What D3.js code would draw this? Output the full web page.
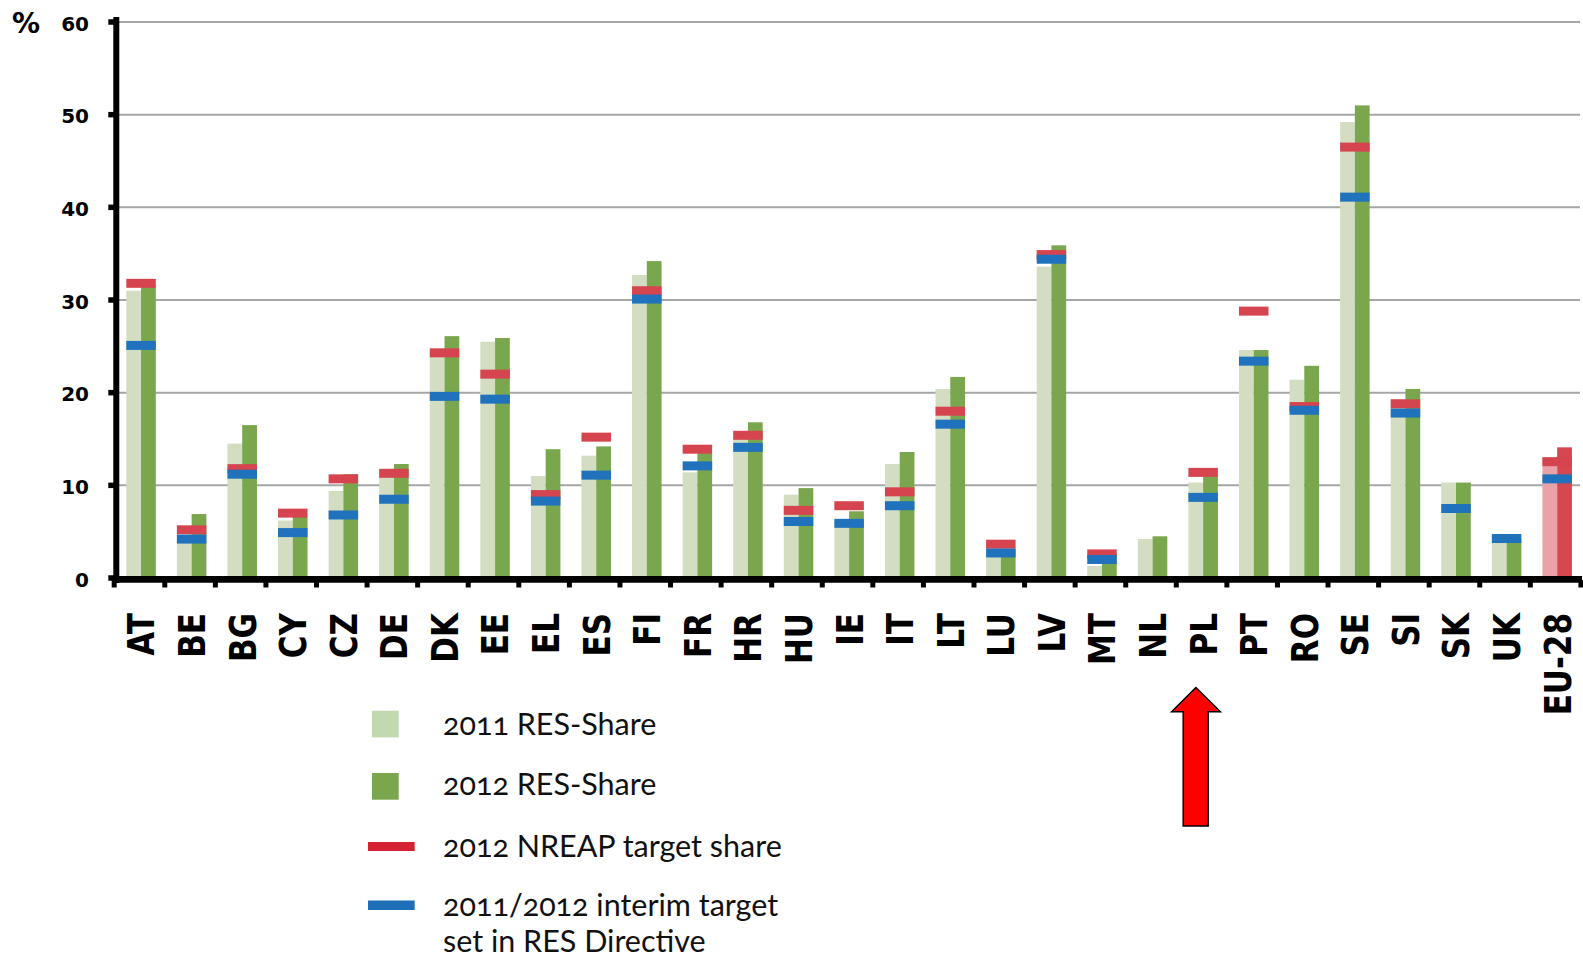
<!DOCTYPE html>
<html>
<head>
<meta charset="utf-8">
<script src="https://cdn.jsdelivr.net/npm/d3@7"></script>
<style>
  html, body { margin: 0; padding: 0; background: #ffffff; }
  svg { display: block; }
</style>
</head>
<body>
<svg id="chart" width="1583" height="956"></svg>
<script>
// ---------- data ----------
const categories = ["AT","BE","BG","CY","CZ","DE","DK","EE","EL","ES","FI","FR","HR","HU","IE","IT","LT","LU","LV","MT","NL","PL","PT","RO","SE","SI","SK","UK","EU-28"];
const share2011 = [31.0, 4.1, 14.5, 6.2, 9.4, 10.9, 24.0, 25.5, 11.0, 13.2, 32.7, 11.4, 15.2, 9.0, 6.3, 12.3, 20.4, 2.6, 33.6, 1.3, 4.2, 10.3, 24.6, 21.4, 49.2, 19.3, 10.3, 3.8, 13.0];
const share2012 = [31.6, 6.9, 16.5, 6.6, 11.2, 12.3, 26.1, 25.9, 13.9, 14.2, 34.2, 13.5, 16.8, 9.7, 7.2, 13.6, 21.7, 3.1, 35.9, 2.6, 4.5, 11.0, 24.6, 22.9, 51.0, 20.4, 10.3, 4.2, 14.1];
const nreapTarget = [31.8, 5.2, 11.8, 7.0, 10.7, 11.3, 24.3, 22.0, 9.0, 15.2, 31.0, 13.9, 15.4, 7.3, 7.8, 9.3, 18.0, 3.65, 34.9, 2.6, null, 11.4, 28.8, 18.5, 46.5, 18.8, null, null, 12.55];
const interimTarget = [25.1, 4.2, 11.2, 4.9, 6.8, 8.5, 19.6, 19.3, 8.3, 11.1, 30.1, 12.1, 14.1, 6.1, 5.9, 7.8, 16.6, 2.7, 34.4, 2.0, null, 8.7, 23.4, 18.1, 41.1, 17.8, 7.5, 4.26, 10.7];
const yTicks = [0, 10, 20, 30, 40, 50, 60];
const yUnit = "%";
const legendLabels = ["2011 RES-Share", "2012 RES-Share", "2012 NREAP target share", ["2011/2012 interim target", "set in RES Directive"]];
const highlightCategory = "EU-28";
const arrowCategory = "PL";

// ---------- styles ----------
const C = {
  light: "#d3ddc2", dark: "#7aa64e",
  euLight: "#e9a2a7", euDark: "#d6474f",
  red: "#d6444f", blue: "#1f72bb",
  legLight: "#c2d8ae", legDark: "#7aa64e", legRed: "#d42232", legBlue: "#1f6fb8",
  grid: "#a6a6a6"
};

const svg = d3.select("#chart");

const x = d3.scaleBand().domain(categories).range([113.3, 1580]).padding(0);
const y = d3.scaleLinear().domain([0, 60]).range([578, 22]);

const barOff = 13, barW = 14.75, markH = 9;

// gridlines
svg.append("g").selectAll("line").data(yTicks.filter(d => d > 0)).join("line")
  .attr("x1", 119).attr("x2", 1580)
  .attr("y1", d => y(d)).attr("y2", d => y(d))
  .attr("stroke", C.grid).attr("stroke-width", 2);

const rows = categories.map((c, i) => ({
  c, v11: share2011[i], v12: share2012[i], nreap: nreapTarget[i], interim: interimTarget[i]
}));

// bars
const g = svg.append("g");
g.selectAll("rect.b11").data(rows).join("rect").attr("class", "b11")
  .attr("x", d => x(d.c) + barOff).attr("width", barW)
  .attr("y", d => y(d.v11)).attr("height", d => y(0) - y(d.v11))
  .attr("fill", d => d.c === highlightCategory ? C.euLight : C.light);
g.selectAll("rect.b12").data(rows).join("rect").attr("class", "b12")
  .attr("x", d => x(d.c) + barOff + barW).attr("width", barW)
  .attr("y", d => y(d.v12)).attr("height", d => y(0) - y(d.v12))
  .attr("fill", d => d.c === highlightCategory ? C.euDark : C.dark);

// markers
g.selectAll("rect.mr").data(rows.filter(d => d.nreap != null)).join("rect").attr("class", "mr")
  .attr("x", d => x(d.c) + barOff).attr("width", barW * 2)
  .attr("y", d => y(d.nreap) - markH / 2).attr("height", markH)
  .attr("fill", C.red);
g.selectAll("rect.mb").data(rows.filter(d => d.interim != null)).join("rect").attr("class", "mb")
  .attr("x", d => x(d.c) + barOff).attr("width", barW * 2)
  .attr("y", d => y(d.interim) - markH / 2).attr("height", markH)
  .attr("fill", C.blue);

// y axis
svg.append("line").attr("x1", 116.3).attr("x2", 116.3).attr("y1", 17).attr("y2", 583)
  .attr("stroke", "#000").attr("stroke-width", 6);
svg.append("g").selectAll("line").data(yTicks).join("line")
  .attr("x1", 108.3).attr("x2", 116).attr("y1", d => y(d)).attr("y2", d => y(d))
  .attr("stroke", "#000").attr("stroke-width", 5.5);
svg.append("g").selectAll("text").data(yTicks).join("text")
  .attr("x", 89).attr("y", d => y(d) + 8.5)
  .attr("text-anchor", "end")
  .attr("font-family", "DejaVu Sans").attr("font-weight", "bold").attr("font-size", 20)
  .attr("fill", "#000").text(d => d);
svg.append("text").attr("x", 12).attr("y", 33)
  .attr("font-family", "DejaVu Sans").attr("font-weight", "bold").attr("font-size", 28)
  .text(yUnit);

// x axis
svg.append("line").attr("x1", 113).attr("x2", 1582).attr("y1", 579.3).attr("y2", 579.3)
  .attr("stroke", "#000").attr("stroke-width", 6.7);
const bounds = categories.map(c => x(c)).concat([x.range()[1]]);
svg.append("g").selectAll("line").data(bounds).join("line")
  .attr("x1", d => d + 0.9).attr("x2", d => d + 0.9).attr("y1", 580).attr("y2", 587.5)
  .attr("stroke", "#000").attr("stroke-width", 5);

// x labels
svg.append("g").selectAll("text").data(categories).join("text")
  .attr("transform", c => `translate(${x(c) + barOff + barW + 13.4},613) rotate(-90) scale(1,1.19)`)
  .attr("text-anchor", "end")
  .attr("font-family", "DejaVu Sans").attr("font-weight", "bold").attr("font-size", 31)
  .attr("fill", "#000").text(c => c);

// legend
const leg = svg.append("g");
const legFont = "Lato, 'Open Sans', sans-serif";
leg.append("rect").attr("x", 372).attr("y", 710.7).attr("width", 26.7).attr("height", 26.7).attr("fill", C.legLight);
leg.append("rect").attr("x", 372).attr("y", 773).attr("width", 26.7).attr("height", 26.7).attr("fill", C.legDark);
leg.append("rect").attr("x", 368).attr("y", 842).attr("width", 46.7).attr("height", 9).attr("fill", C.legRed);
leg.append("rect").attr("x", 368).attr("y", 900.5).attr("width", 46.7).attr("height", 9.5).attr("fill", C.legBlue);
const legBase = [735, 795, 856.7, 915.7];
legendLabels.forEach((lab, i) => {
  const t = leg.append("text").attr("x", 443).attr("y", legBase[i])
    .attr("font-family", legFont).attr("font-size", 30.5).attr("fill", "#111")
    .style("font-variant-numeric", "oldstyle-nums");
  if (Array.isArray(lab)) {
    lab.forEach((l, j) => t.append("tspan").attr("x", 443).attr("dy", j === 0 ? 0 : 36).text(l));
  } else t.text(lab);
});

// arrow annotation pointing at PL
const ax = x(arrowCategory) + 20.5;
const arrowPts = [[0, 0], [24.5, 24.2], [12.3, 24.2], [12.3, 138.5], [-12.7, 138.5], [-12.7, 24.2], [-24.3, 24.2]];
svg.append("path")
  .attr("d", d3.line()(arrowPts.map(p => [ax + p[0], 687.5 + p[1]])) + "Z")
  .attr("fill", "#ff0000").attr("stroke", "#000").attr("stroke-width", 1.5);
</script>
</body>
</html>
